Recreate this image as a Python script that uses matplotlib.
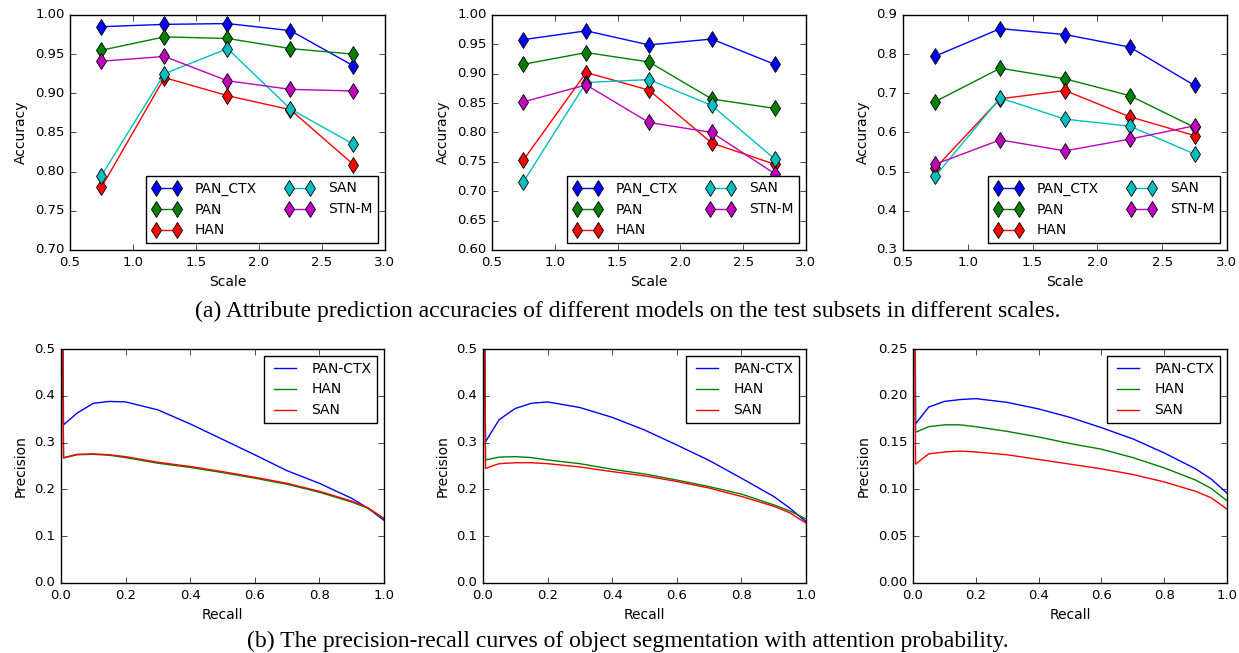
import matplotlib
matplotlib.use("Agg")
import matplotlib.pyplot as plt
import numpy as np

plt.style.use('classic')
plt.rcParams['figure.facecolor'] = 'white'
plt.rcParams['savefig.facecolor'] = 'white'
plt.rcParams['font.family'] = 'DejaVu Sans'

scales = [0.75, 1.25, 1.75, 2.25, 2.75]
models = ['PAN_CTX', 'PAN', 'HAN', 'SAN', 'STN-M']
model_colors = ['b', 'g', 'r', 'c', 'm']

acc_left = {
    'PAN_CTX': [0.985, 0.988, 0.989, 0.980, 0.935],
    'PAN': [0.955, 0.972, 0.970, 0.957, 0.950],
    'HAN': [0.780, 0.920, 0.897, 0.879, 0.809],
    'SAN': [0.795, 0.925, 0.957, 0.880, 0.835],
    'STN-M': [0.941, 0.947, 0.916, 0.905, 0.903],
}
acc_mid = {
    'PAN_CTX': [0.958, 0.973, 0.949, 0.959, 0.916],
    'PAN': [0.916, 0.936, 0.920, 0.857, 0.841],
    'HAN': [0.753, 0.902, 0.872, 0.782, 0.746],
    'SAN': [0.716, 0.885, 0.890, 0.846, 0.755],
    'STN-M': [0.852, 0.881, 0.817, 0.800, 0.730],
}
acc_right = {
    'PAN_CTX': [0.795, 0.865, 0.850, 0.818, 0.720],
    'PAN': [0.679, 0.764, 0.737, 0.694, 0.613],
    'HAN': [0.509, 0.686, 0.707, 0.640, 0.592],
    'SAN': [0.489, 0.688, 0.634, 0.616, 0.545],
    'STN-M': [0.519, 0.581, 0.553, 0.583, 0.617],
}

# precision-recall curves
recall = [0.0, 0.008, 0.05, 0.1, 0.15, 0.2, 0.3, 0.4, 0.5, 0.6, 0.7, 0.8, 0.9, 0.95, 1.0]
pr_left = {
    'PAN-CTX': [1.0, 0.338, 0.363, 0.384, 0.388, 0.387, 0.370, 0.340, 0.307, 0.274, 0.240, 0.213, 0.181, 0.160, 0.134],
    'HAN': [1.0, 0.267, 0.274, 0.275, 0.273, 0.268, 0.256, 0.247, 0.236, 0.224, 0.211, 0.194, 0.173, 0.160, 0.137],
    'SAN': [1.0, 0.268, 0.275, 0.276, 0.274, 0.270, 0.258, 0.249, 0.238, 0.226, 0.213, 0.196, 0.175, 0.161, 0.138],
}
pr_mid = {
    'PAN-CTX': [1.0, 0.302, 0.349, 0.373, 0.384, 0.387, 0.375, 0.354, 0.327, 0.295, 0.262, 0.224, 0.185, 0.160, 0.131],
    'HAN': [1.0, 0.263, 0.269, 0.270, 0.268, 0.263, 0.255, 0.243, 0.233, 0.220, 0.206, 0.190, 0.167, 0.154, 0.137],
    'SAN': [1.0, 0.245, 0.255, 0.257, 0.257, 0.255, 0.248, 0.238, 0.229, 0.217, 0.203, 0.185, 0.164, 0.150, 0.128],
}
pr_right = {
    'PAN-CTX': [1.0, 0.170, 0.188, 0.194, 0.196, 0.197, 0.193, 0.186, 0.177, 0.166, 0.154, 0.139, 0.122, 0.111, 0.096],
    'HAN': [1.0, 0.161, 0.167, 0.169, 0.169, 0.167, 0.162, 0.156, 0.149, 0.143, 0.134, 0.123, 0.110, 0.101, 0.088],
    'SAN': [1.0, 0.127, 0.138, 0.140, 0.141, 0.140, 0.137, 0.132, 0.127, 0.122, 0.116, 0.108, 0.098, 0.091, 0.079],
}
pr_names = ['PAN-CTX', 'HAN', 'SAN']
pr_colors = ['b', 'g', 'r']

fig = plt.figure(figsize=(12.39, 6.53), dpi=100)

top_pos = [[0.0565, 0.6172, 0.2542, 0.3599],
           [0.3971, 0.6172, 0.2534, 0.3599],
           [0.7288, 0.6172, 0.2615, 0.3599]]
bot_pos = [[0.0492, 0.1072, 0.2607, 0.3583],
           [0.3898, 0.1072, 0.2607, 0.3583],
           [0.7369, 0.1072, 0.2534, 0.3583]]

top_data = [acc_left, acc_mid, acc_right]
top_ylim = [(0.70, 1.00), (0.60, 1.00), (0.3, 0.9)]
top_yticks = [np.arange(0.70, 1.001, 0.05), np.arange(0.60, 1.001, 0.05), np.arange(0.3, 0.901, 0.1)]
top_fmt = ['%.2f', '%.2f', '%.1f']

for pos, data, ylim, yt, fmt in zip(top_pos, top_data, top_ylim, top_yticks, top_fmt):
    ax = fig.add_axes(pos)
    for m, c in zip(models, model_colors):
        ax.plot(scales, data[m], color=c, lw=1.0, marker='d', markersize=8,
                markeredgecolor='k', markeredgewidth=0.6, label=m)
    ax.set_xlim(0.5, 3.0)
    ax.set_ylim(*ylim)
    ax.set_xticks(np.arange(0.5, 3.01, 0.5))
    ax.set_yticks(yt)
    ax.set_yticklabels([fmt % v for v in yt])
    ax.set_xticklabels(['%.1f' % v for v in np.arange(0.5, 3.01, 0.5)])
    ax.tick_params(labelsize=9.5)
    ax.set_xlabel('Scale', fontsize=10)
    ax.set_ylabel('Accuracy', fontsize=10)
    ax.legend(loc='lower right', ncol=2, fontsize=10, numpoints=2,
              frameon=True, fancybox=False, borderaxespad=0.5, borderpad=0.4,
              handlelength=2.1, handletextpad=1.0, columnspacing=2.0,
              labelspacing=0.5)

bot_data = [pr_left, pr_mid, pr_right]
bot_ylim = [(0.0, 0.5), (0.0, 0.5), (0.0, 0.25)]
bot_yticks = [np.arange(0.0, 0.501, 0.1), np.arange(0.0, 0.501, 0.1), np.arange(0.0, 0.251, 0.05)]
bot_fmt = ['%.1f', '%.1f', '%.2f']

for pos, data, ylim, yt, fmt in zip(bot_pos, bot_data, bot_ylim, bot_yticks, bot_fmt):
    ax = fig.add_axes(pos)
    for n, c in zip(pr_names, pr_colors):
        ax.plot(recall, data[n], color=c, lw=1.0, label=n)
    ax.set_xlim(0.0, 1.0)
    ax.set_ylim(*ylim)
    ax.set_xticks(np.arange(0.0, 1.01, 0.2))
    ax.set_xticklabels(['%.1f' % v for v in np.arange(0.0, 1.01, 0.2)])
    ax.set_yticks(yt)
    ax.set_yticklabels([fmt % v for v in yt])
    ax.tick_params(labelsize=9.5)
    ax.set_xlabel('Recall', fontsize=10)
    ax.set_ylabel('Precision', fontsize=10)
    ax.legend(loc='upper right', fontsize=10, numpoints=2, frameon=True,
              fancybox=False, borderaxespad=0.5, borderpad=0.4,
              handlelength=2.2, handletextpad=0.8, labelspacing=0.5)

fig.text(0.507, 0.5237, '(a) Attribute prediction accuracies of different models on the test subsets in different scales.',
         ha='center', va='center', fontsize=17, family='Liberation Serif')
fig.text(0.507, 0.0184, '(b) The precision-recall curves of object segmentation with attention probability.',
         ha='center', va='center', fontsize=17, family='Liberation Serif')

fig.savefig('out.png', dpi=100)
